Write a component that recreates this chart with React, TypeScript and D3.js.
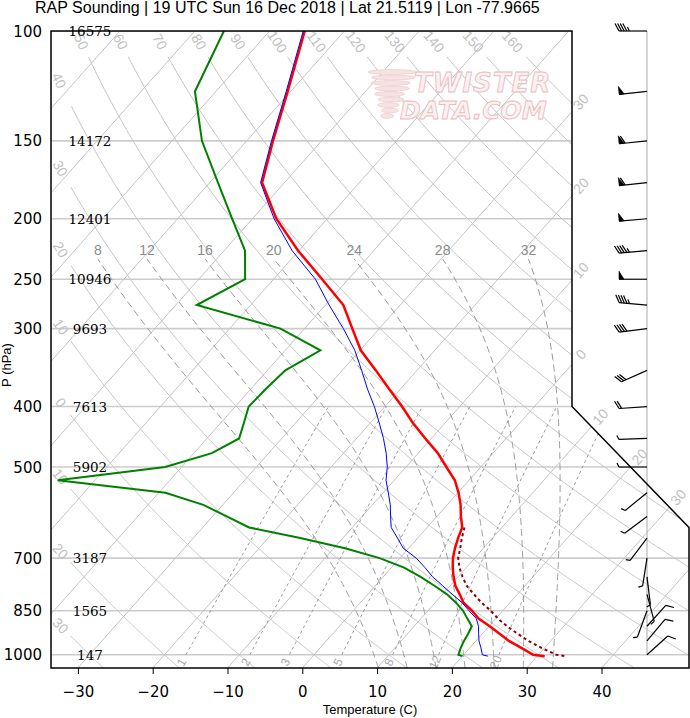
import React, { useEffect, useRef } from "react";
import * as d3 from "d3";

// sounding levels (hPa) and profiles (C)
const levels = [100, 125, 150, 175, 200, 225, 250, 275, 300, 325, 350, 375, 400, 425, 450, 475, 500, 525, 550, 575, 600, 625, 650, 675, 700, 725, 750, 775, 800, 825, 850, 875, 900, 925, 950, 975, 1000, 1005];
const temperature = [-75.3, -70.4, -66.5, -63.0, -56.8, -50.1, -43.5, -37.6, -33.6, -29.9, -25.5, -21.5, -17.7, -14.3, -10.8, -7.4, -4.6, -1.9, 0.1, 1.8, 3.2, 4.7, 5.4, 6.2, 7.1, 8.2, 9.4, 10.7, 12.3, 13.8, 15.9, 17.7, 20.1, 22.3, 24.4, 26.9, 29.3, 31.0];
const dewpoint = [-86.1, -82.8, -76.0, -68.9, -62.7, -57.2, -53.8, -57.2, -43.2, -35.3, -37.6, -38.0, -38.2, -36.9, -35.7, -37.6, -42.2, -55.0, -39.1, -32.6, -28.1, -23.8, -15.7, -8.5, -2.7, 1.7, 5.0, 7.9, 10.6, 12.8, 14.7, 16.2, 17.7, 18.1, 18.4, 18.8, 19.3, 20.0];
const wetBulb = [-75.5, -70.6, -66.7, -63.2, -57.1, -50.9, -44.4, -39.5, -34.8, -30.7, -27.4, -24.4, -21.4, -18.8, -16.4, -14.3, -12.5, -11.1, -9.3, -7.6, -6.2, -4.8, -2.7, -0.7, 2.2, 4.5, 6.6, 9.0, 11.3, 13.6, 15.5, 17.4, 18.6, 19.5, 20.4, 21.5, 22.5, 23.4];
const tvLevels = [625, 650, 675, 700, 725, 750, 775, 800, 825, 850, 875, 900, 925, 950, 975, 1000, 1005];
const virtualTemp = [5.0, 5.9, 6.9, 7.8, 9.1, 10.6, 12.2, 14.2, 16.2, 18.4, 20.3, 22.4, 24.7, 27.0, 29.6, 32.4, 33.8];

// mandatory levels with geopotential heights (m)
const pressureTicks = [100, 150, 200, 250, 300, 400, 500, 700, 850, 1000];
const heights = [16575, 14172, 12401, 10946, 9693, 7613, 5902, 3187, 1565, 147];
const tempTicks = [-30, -20, -10, 0, 10, 20, 30, 40];

// winds (deg, kt)
const windLevels = [100, 125, 150, 175, 200, 225, 250, 275, 300, 350, 400, 450, 500, 550, 600, 650, 700, 750, 800, 850, 900, 950, 1000];
const windDir = [270, 264, 264, 264, 265, 265, 270, 275, 263, 246, 266, 268, 270, 231, 233, 217, 189, 173, 165, 200, 42, 40, 48];
const windSpd = [45, 50, 60, 60, 50, 45, 50, 45, 40, 30, 20, 5, 5, 5, 5, 5, 5, 5, 5, 5, 10, 10, 10];

// background reference lines
const isotherms = d3.range(-110, 50, 10);
const dryAdiabats = d3.range(-30, 170, 10);
const moistAdiabats = [8, 12, 16, 20, 24, 28, 32];
const mixingRatios = [1, 2, 3, 5, 8, 12, 20];

const W = 690;
const H = 718;
const LEFT = 51;
const TOP = 31;
const BOTTOM = 668;
const RIGHT_UP = 572;
const RIGHT_LOW = 689;
const SKEW = 0.888;
const BARB_X = 647;

const App = (): JSX.Element => {
  const ref = useRef<SVGSVGElement>(null);

  useEffect(() => {
    const y = d3.scaleLog().domain([1050, 100]).range([BOTTOM, TOP]);
    const x = d3.scaleLinear().domain([0, 10]).range([302.3, 377.1]);
    const sx = (t: number, p: number) => x(t) + SKEW * (BOTTOM - y(p));
    const yNotchTop = y(400);
    const yNotchBot = y(625);
    const rightEdge = (yy: number) =>
      yy <= yNotchTop ? RIGHT_UP : yy >= yNotchBot ? RIGHT_LOW : RIGHT_UP + ((yy - yNotchTop) * (RIGHT_LOW - RIGHT_UP)) / (yNotchBot - yNotchTop);

    const svg = d3.select(ref.current);
    svg.selectAll("*").remove();

    const outline: [number, number][] = [
      [LEFT, TOP], [RIGHT_UP, TOP], [RIGHT_UP, yNotchTop], [RIGHT_LOW, yNotchBot], [RIGHT_LOW, BOTTOM], [LEFT, BOTTOM],
    ];
    svg.append("defs").append("clipPath").attr("id", "plotClip")
      .append("polygon").attr("points", outline.map((d) => d.join(",")).join(" "));

    const labelFont = "'Liberation Sans', Arial, sans-serif";
    const bg = svg.append("g").attr("clip-path", "url(#plotClip)");
    const labels = svg.append("g");
    const pline = d3.line<[number, number]>().x((d) => sx(d[1], d[0])).y((d) => y(d[0]));

    // watermark
    const wm = svg.append("g");
    [0, 1, 2, 3, 4, 5, 6, 7, 8].forEach((i) => {
      wm.append("ellipse")
        .attr("cx", 392 - i * 0.6 + (i % 2) * 2)
        .attr("cy", 72 + i * 5.5)
        .attr("rx", 24 - i * 2.2)
        .attr("ry", 2.4)
        .attr("fill", "#f6e2e2")
        .attr("stroke", "#edcaca")
        .attr("stroke-width", 0.7);
    });
    wm.append("text").attr("x", 414).attr("y", 92).text("TWISTER")
      .attr("font-family", "'DejaVu Sans', sans-serif").attr("font-weight", "bold").attr("font-style", "italic")
      .attr("font-size", 26).attr("letter-spacing", 1).attr("fill", "#fbf1f1").attr("stroke", "#e9bcbc").attr("stroke-width", 0.9);
    wm.append("text").attr("x", 400).attr("y", 119).text("DATA.COM")
      .attr("font-family", "'DejaVu Sans', sans-serif").attr("font-weight", "bold").attr("font-style", "italic")
      .attr("font-size", 25).attr("fill", "#fbf1f1").attr("stroke", "#e9bcbc").attr("stroke-width", 0.9);

    // isobars
    pressureTicks.forEach((p) => {
      bg.append("line").attr("x1", LEFT).attr("x2", RIGHT_LOW).attr("y1", y(p)).attr("y2", y(p))
        .attr("stroke", "#cccccc").attr("stroke-width", 1.6);
    });

    // isotherms
    isotherms.forEach((t) => {
      bg.append("line")
        .attr("x1", sx(t, 1050)).attr("y1", y(1050))
        .attr("x2", sx(t, 100)).attr("y2", y(100))
        .attr("stroke", "#c4c4c4").attr("stroke-width", 1);
      // label where the line leaves the right edge
      for (let yy = BOTTOM; yy > TOP + 2; yy -= 0.5) {
        const xx = x(t) + SKEW * (BOTTOM - yy);
        if (xx < LEFT) continue;
        if (xx >= rightEdge(yy)) {
          const len = Math.hypot(SKEW, 1);
          const lx = xx + (13 * SKEW) / len;
          if (lx < RIGHT_LOW - 6) {
            labels.append("text")
              .attr("transform", `translate(${lx},${yy - 13 / len}) rotate(${(Math.atan2(-1, SKEW) * 180) / Math.PI})`)
              .attr("text-anchor", "middle").attr("dominant-baseline", "central")
              .attr("font-family", labelFont).attr("font-size", 14).attr("fill", "#c0c0c0")
              .text(Math.abs(t));
          }
          break;
        }
      }
    });

    // dry adiabats
    dryAdiabats.forEach((th) => {
      const pts: [number, number][] = [];
      let lab: [number, number, number] | null = null;
      for (let p = 1050; p >= 100; p -= 2) {
        const t = (th + 273.15) * Math.pow(p / 1000, 0.2857) - 273.15;
        const xx = sx(t, p);
        const yy = y(p);
        if (!lab && (xx < LEFT + 10 || yy < TOP + 14)) {
          const tb = (th + 273.15) * Math.pow((p + 4) / 1000, 0.2857) - 273.15;
          const ang = (Math.atan2(y(p + 4) - yy, sx(tb, p + 4) - xx) * 180) / Math.PI;
          lab = [xx, yy, ang];
          break;
        }
        if (xx >= LEFT + 19 && yy >= TOP + 24) pts.push([p, t]);
      }
      bg.append("path").attr("d", pline(pts)).attr("fill", "none")
        .attr("stroke", "#c4c4c4").attr("stroke-width", 1);
      if (lab) {
        labels.append("text")
          .attr("transform", `translate(${lab[0]},${lab[1]}) rotate(${lab[2]})`)
          .attr("text-anchor", "middle").attr("dominant-baseline", "central")
          .attr("font-family", labelFont).attr("font-size", 14).attr("fill", "#c0c0c0")
          .text(Math.abs(th));
      }
    });

    // moist (pseudo) adiabats
    const lapse = (p: number, t: number) => {
      const tc = t - 273.15;
      const e = 6.112 * Math.exp((17.67 * tc) / (tc + 243.5));
      const rs = (0.622 * e) / (p - e);
      return (287.04 * t + 2.501e6 * rs) / (1005.7 + (2.501e6 * 2.501e6 * rs * 0.622) / (287.04 * t * t)) / p;
    };
    const rk = (p: number, t: number, h: number) => {
      const k1 = lapse(p, t);
      const k2 = lapse(p + h / 2, t + (h / 2) * k1);
      const k3 = lapse(p + h / 2, t + (h / 2) * k2);
      const k4 = lapse(p + h, t + h * k3);
      return t + (h / 6) * (k1 + 2 * k2 + 2 * k3 + k4);
    };
    const pTopMoist = 232;
    moistAdiabats.forEach((tw) => {
      const pts: [number, number][] = [];
      let t = tw + 273.15;
      const down: [number, number][] = [[1000, tw]];
      for (let p = 1000; p < 1050; p += 5) { t = rk(p, t, 5); down.push([p + 5, t - 273.15]); }
      t = tw + 273.15;
      for (let p = 1000; p > pTopMoist; p -= 4) { t = rk(p, t, -4); pts.push([p - 4, t - 273.15]); }
      const all = down.reverse().concat(pts);
      bg.append("path").attr("d", pline(all)).attr("fill", "none")
        .attr("stroke", "#9a9a9a").attr("stroke-width", 1).attr("stroke-dasharray", "7,4");
      const end = all[all.length - 1];
      labels.append("text").attr("x", sx(end[1], end[0])).attr("y", y(end[0]) - 4)
        .attr("text-anchor", "middle").attr("font-family", labelFont).attr("font-size", 14)
        .attr("fill", "#8c8c8c").text(tw);
    });

    // mixing ratio lines
    const mixTd = (w: number, p: number) => {
      const e = (w * p) / (622 + w);
      const l = Math.log(e / 6.112);
      return (243.5 * l) / (17.67 - l);
    };
    mixingRatios.forEach((w) => {
      const pts: [number, number][] = d3.range(1000, 399, -10).map((p) => [p, mixTd(w, p)] as [number, number]);
      bg.append("path").attr("d", pline(pts)).attr("fill", "none")
        .attr("stroke", "#9a9a9a").attr("stroke-width", 1).attr("stroke-dasharray", "3,3");
      const pl = 1028;
      const ang = (Math.atan2(y(950) - y(pl), sx(mixTd(w, 950), 950) - sx(mixTd(w, pl), pl)) * 180) / Math.PI;
      labels.append("text")
        .attr("transform", `translate(${sx(mixTd(w, pl), pl)},${y(pl)}) rotate(${ang})`)
        .attr("text-anchor", "middle").attr("dominant-baseline", "central")
        .attr("font-family", labelFont).attr("font-size", 12).attr("fill", "#a8a8a8").text(w);
    });

    // wind barb column
    svg.append("line").attr("x1", BARB_X).attr("x2", BARB_X).attr("y1", y(100)).attr("y2", y(1000))
      .attr("stroke", "#aaaaaa").attr("stroke-width", 1);

    // profiles
    const prof = (lv: number[], vals: number[]) => lv.map((p, i) => [p, vals[i]] as [number, number]);
    svg.append("path").attr("d", pline(prof(tvLevels, virtualTemp))).attr("fill", "none")
      .attr("stroke", "#8b0000").attr("stroke-width", 2).attr("stroke-dasharray", "3,3");
    svg.append("path").attr("d", pline(prof(levels, dewpoint))).attr("fill", "none")
      .attr("stroke", "#008000").attr("stroke-width", 2);
    svg.append("path").attr("d", pline(prof(levels, temperature))).attr("fill", "none")
      .attr("stroke", "#ff0000").attr("stroke-width", 2.5);
    svg.append("path").attr("d", pline(prof(levels, wetBulb))).attr("fill", "none")
      .attr("stroke", "#0000ff").attr("stroke-width", 1);

    // wind barbs
    const barbs = svg.append("g").attr("stroke", "#000").attr("stroke-width", 1.2).attr("fill", "#000");
    windLevels.forEach((p, i) => {
      const x0 = BARB_X;
      const y0 = y(p);
      const rad = (windDir[i] * Math.PI) / 180;
      const ux = Math.sin(rad);
      const uy = -Math.cos(rad);
      const nx = -uy;
      const ny = ux;
      const L = 28;
      const tx = x0 + ux * L;
      const ty = y0 + uy * L;
      barbs.append("line").attr("x1", x0).attr("y1", y0).attr("x2", tx).attr("y2", ty);
      let rem = Math.round(windSpd[i] / 5) * 5;
      let pos = 0;
      const at = (d: number) => [tx - ux * d, ty - uy * d];
      while (rem >= 50) {
        const [ax, ay] = at(pos);
        const [bx, by] = at(pos + 5);
        barbs.append("polygon").attr("stroke-width", 0.6)
          .attr("points", `${ax},${ay} ${ax + nx * 8},${ay + ny * 8} ${bx},${by}`);
        pos += 6;
        rem -= 50;
      }
      while (rem >= 10) {
        const [ax, ay] = at(pos);
        barbs.append("line").attr("x1", ax).attr("y1", ay)
          .attr("x2", ax + nx * 7.5 + ux * 4).attr("y2", ay + ny * 7.5 + uy * 4);
        pos += 2.6;
        rem -= 10;
      }
      if (rem >= 5) {
        const [ax, ay] = at(pos);
        barbs.append("line").attr("x1", ax).attr("y1", ay)
          .attr("x2", ax + nx * 4 + ux * 2).attr("y2", ay + ny * 4 + uy * 2);
      }
    });

    // frame
    svg.append("polygon").attr("points", outline.map((d) => d.join(",")).join(" "))
      .attr("fill", "none").attr("stroke", "#000").attr("stroke-width", 1.5);

    // temperature axis
    const axis = svg.append("g").attr("transform", `translate(0,${BOTTOM})`)
      .call(d3.axisBottom(x).tickValues(tempTicks).tickSize(6).tickPadding(12));
    axis.select(".domain").remove();
    axis.selectAll("text").attr("font-family", "'DejaVu Sans', sans-serif").attr("font-size", 15).attr("fill", "#000");

    // pressure and height labels
    pressureTicks.forEach((p, i) => {
      svg.append("text").attr("x", 42).attr("y", y(p) + 5.5).attr("text-anchor", "end")
        .attr("font-family", "'DejaVu Sans', sans-serif").attr("font-size", 15).text(p);
      svg.append("text").attr("x", 90).attr("y", y(p) + 5).attr("text-anchor", "middle")
        .attr("font-family", "'DejaVu Serif', serif").attr("font-size", 13.5).text(heights[i]);
    });

    svg.append("text").attr("x", 35).attr("y", 13)
      .attr("font-family", labelFont).attr("font-size", 16)
      .text("RAP Sounding | 19 UTC Sun 16 Dec 2018 | Lat 21.5119 | Lon -77.9665");
    svg.append("text").attr("x", 370).attr("y", 714).attr("text-anchor", "middle")
      .attr("font-family", labelFont).attr("font-size", 13).text("Temperature (C)");
    svg.append("text").attr("transform", "translate(10.5,365) rotate(-90)").attr("text-anchor", "middle")
      .attr("font-family", labelFont).attr("font-size", 13).text("P (hPa)");
  }, []);

  return (
    <svg
      ref={ref}
      width={W}
      height={H}
      style={{ position: "absolute", left: 0, top: 0, background: "#fff" }}
    />
  );
};

export default App;
